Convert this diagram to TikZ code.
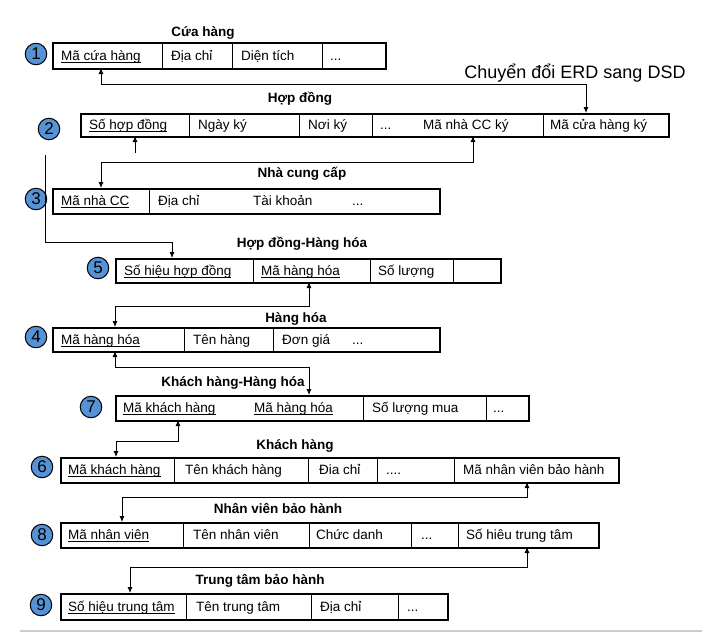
\documentclass[tikz,border=0pt]{standalone}
\usepackage{fontspec}
\setmainfont{Liberation Sans}
\usetikzlibrary{arrows.meta}
\definecolor{numblue}{RGB}{86,146,214}
\definecolor{rulegray}{RGB}{205,205,205}
\newcommand\ulin[1]{\leavevmode\setbox0\hbox{#1}\rlap{\rule[-2.3pt]{\wd0}{0.7pt}}\box0}
\begin{document}
\begin{tikzpicture}[x=1pt,y=-1pt,
  tbl/.style={draw, line width=2.4pt, anchor=north west, inner sep=0pt},
  divl/.style={line width=0.8pt},
  cell/.style={anchor=west, inner sep=0pt, text height=10pt, text depth=0pt, font=\fontsize{13.5}{14}\selectfont},
  ttl/.style={inner sep=0pt, text height=10pt, text depth=0pt, font=\bfseries\fontsize{13.5}{14}\selectfont},
  num/.style={circle, draw, line width=1pt, fill=numblue, minimum size=21.5pt, inner sep=0pt, font=\fontsize{17}{17}\selectfont},
  onearr/.style={line width=0.9pt, -{Latex[length=6pt,width=5pt]}},
  dblarr/.style={line width=0.9pt, {Latex[length=6pt,width=5pt]}-{Latex[length=6pt,width=5pt]}},
]
\useasboundingbox (0,0) rectangle (710,643);

% title
\node[inner sep=0pt, text height=13pt, text depth=0pt, font=\fontsize{18}{18}\selectfont] (title) at (575,72) {Chuyển đổi ERD sang DSD};

% ---------- 1 Cua hang
\node[ttl] (lab1) at (203,31) {Cứa hàng};
\node[num] (n1) at (36,54) {1};
\node[tbl, minimum width=333pt, minimum height=26pt] (t1) at (52,42) {};
\draw[divl] (162,42) -- (162,68) (232,42) -- (232,68) (322,42) -- (322,68);
\node[cell] (t1a) at (61,55) {\ulin{Mã cứa hàng}};
\node[cell] (t1b) at (171,55) {Địa chỉ};
\node[cell] (t1c) at (241,55) {Diện tích};
\node[cell] (t1d) at (330,55) {...};

% ---------- 2 Hop dong
\node[ttl] (lab2) at (300,97) {Hợp đồng};
\node[num] (n2) at (49,129) {2};
\node[tbl, minimum width=588pt, minimum height=23pt] (t2) at (80,113) {};
\draw[divl] (189,113) -- (189,136) (299,113) -- (299,136) (372,113) -- (372,136) (543,113) -- (543,136);
\node[cell] (t2a) at (89,124.5) {\ulin{Số hợp đồng}};
\node[cell] (t2b) at (198,124.5) {Ngày ký};
\node[cell] (t2c) at (308,124.5) {Nơi ký};
\node[cell] (t2d) at (380,124.5) {...};
\node[cell] (t2e) at (423,124.5) {Mã nhà CC ký};
\node[cell] (t2f) at (550,124.5) {Mã cửa hàng ký};

% ---------- 3 Nha cung cap
\node[ttl] (lab3) at (302,172) {Nhà cung cấp};
\node[num] (n3) at (36,199) {3};
\node[tbl, minimum width=387pt, minimum height=25pt] (t3) at (52,188) {};
\draw[divl] (149,188) -- (149,213);
\node[cell] (t3a) at (61,200.5) {\ulin{Mã nhà CC}};
\node[cell] (t3b) at (158,200.5) {Địa chỉ};
\node[cell] (t3c) at (253,200.5) {Tài khoản};
\node[cell] (t3d) at (352,200.5) {...};

% ---------- 5 Hop dong - Hang hoa
\node[ttl] (lab5) at (302,242) {Hợp đồng-Hàng hóa};
\node[num] (n5) at (98,268) {5};
\node[tbl, minimum width=385pt, minimum height=24pt] (t5) at (115,258) {};
\draw[divl] (253,258) -- (253,282) (370,258) -- (370,282) (453,258) -- (453,282);
\node[cell] (t5a) at (124,270) {\ulin{Số hiệu hợp đồng}};
\node[cell] (t5b) at (261,270) {\ulin{Mã hàng hóa}};
\node[cell] (t5c) at (378,270) {Số lượng};

% ---------- 4 Hang hoa
\node[ttl] (lab4) at (296,317) {Hàng hóa};
\node[num] (n4) at (36,337) {4};
\node[tbl, minimum width=387pt, minimum height=24pt] (t4) at (52,327) {};
\draw[divl] (184,327) -- (184,351) (273,327) -- (273,351);
\node[cell] (t4a) at (61,339) {\ulin{Mã hàng hóa}};
\node[cell] (t4b) at (193,339) {Tên hàng};
\node[cell] (t4c) at (282,339) {Đơn giá};
\node[cell] (t4d) at (352,339) {...};

% ---------- 7 Khach hang - Hang hoa
\node[ttl] (lab7) at (233,381) {Khách hàng-Hàng hóa};
\node[num] (n7) at (91,407) {7};
\node[tbl, minimum width=413pt, minimum height=25pt] (t7) at (115,395) {};
\draw[divl] (363,395) -- (363,420) (486,395) -- (486,420);
\node[cell] (t7a) at (123,407.5) {\ulin{Mã khách hàng}};
\node[cell] (t7b) at (254,407.5) {\ulin{Mã hàng hóa}};
\node[cell] (t7c) at (372,407.5) {Số lượng mua};
\node[cell] (t7d) at (493,407.5) {...};

% ---------- 6 Khach hang
\node[ttl] (lab6) at (295,444) {Khách hàng};
\node[num] (n6) at (42,467) {6};
\node[tbl, minimum width=558pt, minimum height=25pt] (t6) at (60,457) {};
\draw[divl] (174,457) -- (174,482) (308,457) -- (308,482) (377,457) -- (377,482) (454,457) -- (454,482);
\node[cell] (t6a) at (68,469.5) {\ulin{Mã khách hàng}};
\node[cell] (t6b) at (185,469.5) {Tên khách hàng};
\node[cell] (t6c) at (319,469.5) {Đia chỉ};
\node[cell] (t6d) at (386,469.5) {....};
\node[cell] (t6e) at (463,469.5) {Mã nhân viên bảo hành};

% ---------- 8 Nhan vien bao hanh
\node[ttl] (lab8) at (278,508) {Nhân viên bảo hành};
\node[num] (n8) at (42,535) {8};
\node[tbl, minimum width=538pt, minimum height=25pt] (t8) at (60,522) {};
\draw[divl] (183,522) -- (183,547) (309,522) -- (309,547) (411,522) -- (411,547) (458,522) -- (458,547);
\node[cell] (t8a) at (68,534.5) {\ulin{Mã nhân viên}};
\node[cell] (t8b) at (193,534.5) {Tên nhân viên};
\node[cell] (t8c) at (316,534.5) {Chức danh};
\node[cell] (t8d) at (421,534.5) {...};
\node[cell] (t8e) at (466,534.5) {Số hiêu trung tâm};

% ---------- 9 Trung tam bao hanh
\node[ttl] (lab9) at (260,579) {Trung tâm bảo hành};
\node[num] (n9) at (41,605) {9};
\node[tbl, minimum width=387pt, minimum height=26pt] (t9) at (60,593) {};
\draw[divl] (186,593) -- (186,619) (311,593) -- (311,619) (398,593) -- (398,619);
\node[cell] (t9a) at (68,606) {\ulin{Số hiệu trung tâm}};
\node[cell] (t9b) at (196,606) {Tên trung tâm};
\node[cell] (t9c) at (320,606) {Địa chỉ};
\node[cell] (t9d) at (407,606) {...};

% bottom rule
\draw[rulegray, line width=1.5pt] (20,631) -- (702,631);

% ---------- connectors
\coordinate (a1) at (101,68);   \coordinate (a2) at (586,113);
\draw[dblarr] (a1) -- (101,84) -| (a2);

\coordinate (s2) at (135,136);  \coordinate (s2e) at (135,153);
\draw[onearr] (s2e) -- (s2);

\coordinate (m2) at (473,136);  \coordinate (m3) at (101,188);
\draw[dblarr] (m2) -- (473,162) -| (m3);

\coordinate (l0) at (45,155);   \coordinate (h5) at (172,258);
\draw[onearr] (l0) -- (45,242) -| (h5);

\coordinate (g5) at (309,282);  \coordinate (g4) at (115,327);
\draw[dblarr] (g5) -- (309,306) -| (g4);

\coordinate (k4) at (115,351);  \coordinate (k7) at (309,395);
\draw[dblarr] (k4) -- (115,367) -| (k7);

\coordinate (c7) at (178,420);  \coordinate (c6) at (116,457);
\draw[dblarr] (c7) -- (178,441) -| (c6);

\coordinate (v6) at (527,482);  \coordinate (v8) at (122,522);
\draw[dblarr] (v6) -- (527,497) -| (v8);

\coordinate (w8) at (527,547);  \coordinate (w9) at (130,593);
\draw[dblarr] (w8) -- (527,567) -| (w9);
\end{tikzpicture}
\end{document}
